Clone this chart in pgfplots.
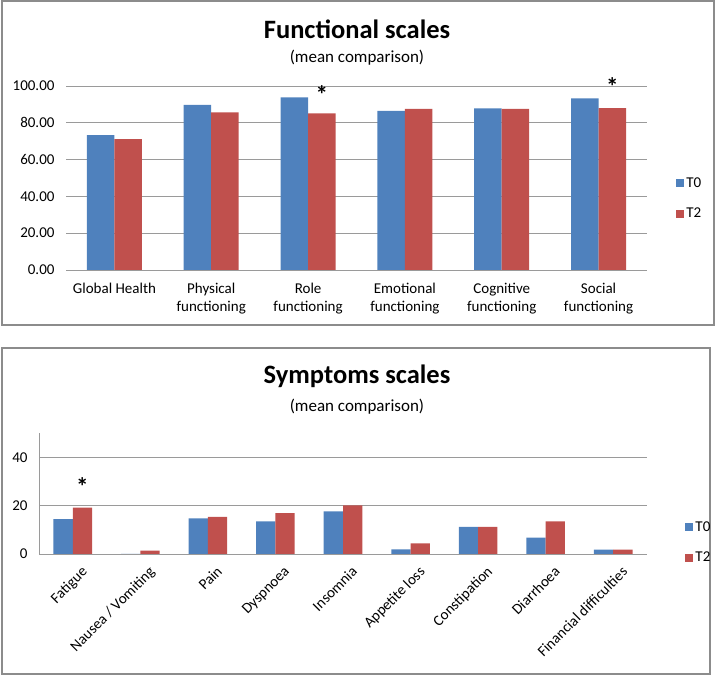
\documentclass[border=0pt]{standalone}
\usepackage{pgfplots}
\pgfplotsset{compat=1.18}
\usepackage{fontspec}
\setmainfont{Carlito}

\definecolor{barblue}{HTML}{4F81BD}
\definecolor{barred}{HTML}{C0504D}
\definecolor{gridgray}{HTML}{9A9A9A}
\definecolor{framegray}{HTML}{8C8C8C}

\pgfplotsset{
  excelbars/.style={
    ybar=0pt,
    scale only axis,
    clip=false,
    axis x line*=bottom, axis y line*=left,
    axis line style={gridgray, line width=0.9pt},
    ymajorgrids, grid style={gridgray, line width=0.9pt},
    major tick length=0pt,
    ticklabel style={font=\fontsize{15}{17.5}\selectfont},
    /pgf/number format/assume math mode=true,
    legend style={draw=none, fill=none, anchor=west,
      font=\fontsize{15}{18}\selectfont, row sep=15pt},
    legend cell align=left,
    every axis plot post/.append style={draw=none,
      legend image code/.code={\fill[##1] (0pt,-4pt) rectangle (8pt,4pt);}},
  }
}

\begin{document}
\begin{tikzpicture}[x=1pt,y=1pt]
\path[use as bounding box] (0,0) rectangle (716,676);
\draw[framegray, line width=1.4pt] (2,351) rectangle (714,675);
\draw[framegray, line width=1.4pt] (2,2) rectangle (710,328);

% top panel
\node[anchor=base, font=\fontsize{26.5}{30}\selectfont\bfseries] at (357,637) {Functional scales};
\node[anchor=base, font=\fontsize{17}{20}\selectfont] at (357,613) {(mean comparison)};

\begin{axis}[excelbars,
    at={(66pt,406pt)}, anchor=south west,
    width=581pt, height=184pt,
    bar width=27.5pt,
    xmin=-0.5, xmax=5.5, ymin=0, ymax=100,
    ytick={0,20,40,60,80,100},
    y axis line style={draw=none},
    yticklabel style={/pgf/number format/fixed, /pgf/number format/fixed zerofill,
      /pgf/number format/precision=2, xshift=-8pt},
    xtick={0,1,2,3,4,5},
    xticklabels={Global Health, {Physical\\functioning}, {Role\\functioning},
      {Emotional\\functioning}, {Cognitive\\functioning}, {Social\\functioning}},
    xticklabel style={align=center, yshift=-10pt},
    legend style={at={(1.045,0.389)}},
  ]
\addplot[fill=barblue] coordinates {(0,73.3) (1,89.8) (2,93.8) (3,86.5) (4,87.8) (5,93.3)};
\addplot[fill=barred] coordinates {(0,71.1) (1,85.6) (2,85.1) (3,87.5) (4,87.5) (5,88.0)};
\legend{T0,T2}
\node[font=\fontsize{25}{25}\selectfont\bfseries] at (axis cs:2.142,95.5) {*};
\node[font=\fontsize{25}{25}\selectfont\bfseries] at (axis cs:5.142,99.5) {*};
\end{axis}

% bottom panel
\node[anchor=base, font=\fontsize{26.5}{30}\selectfont\bfseries] at (357,292) {Symptoms scales};
\node[anchor=base, font=\fontsize{17}{20}\selectfont] at (357,264) {(mean comparison)};

\begin{axis}[excelbars,
    at={(39pt,122pt)}, anchor=south west,
    width=608pt, height=121pt,
    bar width=19.3pt,
    xmin=-0.5, xmax=8.5, ymin=0, ymax=50,
    ytick={0,20,40},
    xtick={0,1,2,3,4,5,6,7,8},
    xticklabels={Fatigue, Nausea / Vomiting, Pain, Dyspnoea, Insomnia,
      Appetite loss, Constipation, Diarrhoea, Financial difficulties},
    xticklabel style={rotate=45, anchor=north east, yshift=-10pt, xshift=1pt},
    yticklabel style={xshift=-8pt},
    legend style={at={(1.058,0.095)}},
  ]
\addplot[fill=barblue] coordinates {(0,14.4) (1,0) (2,14.7) (3,13.5) (4,17.6) (5,1.9) (6,11.2) (7,6.8) (8,1.8)};
\addplot[fill=barred] coordinates {(0,19.2) (1,1.4) (2,15.3) (3,16.9) (4,20.1) (5,4.4) (6,11.2) (7,13.5) (8,1.8)};
\legend{T0,T2}
\node[font=\fontsize{25}{25}\selectfont\bfseries] at (axis cs:0.143,27.8) {*};
\end{axis}
\end{tikzpicture}
\end{document}
